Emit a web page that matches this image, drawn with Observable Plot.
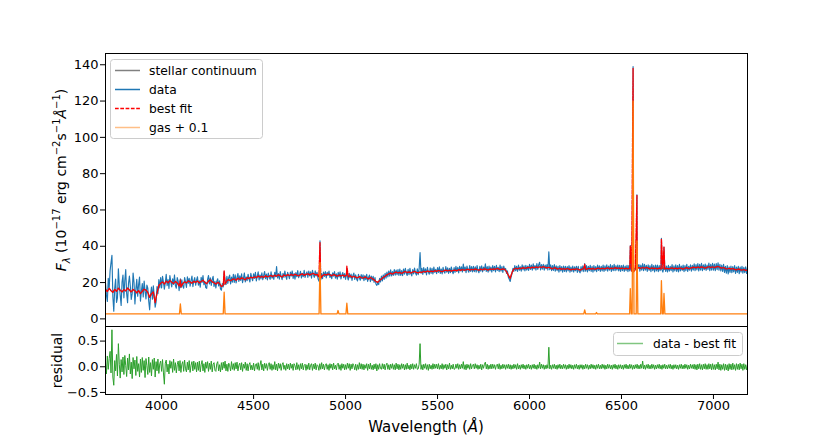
<!DOCTYPE html>
<html>
<head>
<meta charset="utf-8">
<script src="https://cdn.jsdelivr.net/npm/d3@7"></script>
<script src="https://cdn.jsdelivr.net/npm/@observablehq/plot@0.6"></script>
<style>
  body { margin: 0; background: white; }
  #wrap { position: relative; width: 830px; height: 443px; font-family: "DejaVu Sans", sans-serif; }
  #wrap > svg { position: absolute; left: 0; }
  #overlay { position: absolute; left: 0; top: 0; pointer-events: none; }
</style>
</head>
<body>
<div id="wrap"></div>
<script>
// ---- Data ----
const fitStart = 3695;  // first wavelength of the model grid (Å)
const fitStep = 10;     // model grid spacing (Å)
const obsStart = 3695;  // first wavelength of the observed grid (Å)
const obsStep = 5;      // observed grid spacing (Å)

// stellar continuum (10^-17 erg/cm2/s/Å), 10 Å grid
const stellar = [
  16.2, 15.1, 16.8, 15.5, 14.6, 16.3, 15.2, 16.9, 15.8, 14.9,
  16.1, 15.4, 17.0, 15.9, 14.8, 16.2, 15.5, 14.3, 15.6, 13.9,
  15.2, 16.4, 15.8, 14.6, 11.8, 13.9, 14.8, 9.0, 14.2, 18.4,
  19.6, 20.3, 19.2, 20.8, 19.9, 21.1, 20.2, 19.5, 20.6, 19.8,
  18.2, 17.6, 19.4, 20.5, 19.8, 21.0, 20.3, 19.6, 20.7, 20.1,
  20.9, 19.8, 20.6, 21.3, 20.2, 19.4, 20.8, 21.5, 20.4, 19.9,
  19.2, 20.1, 19.5, 17.8, 18.5, 19.3, 21.0, 21.6, 20.9, 21.8,
  22.0, 21.3, 22.4, 21.7, 22.6, 22.1, 21.5, 22.8, 22.2, 23.0,
  22.5, 23.2, 22.7, 23.6, 22.9, 23.4, 22.8, 23.8, 23.1, 23.5,
  23.9, 23.2, 24.1, 23.5, 24.3, 23.7, 23.0, 24.2, 23.6, 24.4,
  23.8, 24.5, 23.9, 24.6, 24.1, 23.6, 24.4, 24.8, 24.0, 24.5,
  24.9, 24.2, 24.7, 25.0, 24.3, 24.6, 23.2, 22.4, 23.8, 24.5,
  24.1, 24.8, 24.3, 23.7, 24.5, 24.0, 23.4, 24.2, 23.6, 24.1,
  23.5, 24.0, 23.2, 23.8, 22.9, 23.5, 23.0, 22.6, 23.3, 22.8,
  22.4, 23.1, 22.6, 22.0, 22.8, 22.2, 21.5, 20.6, 20.1, 21.2,
  22.0, 22.9, 23.5, 24.3, 24.8, 25.2, 24.6, 25.4, 25.8, 25.3,
  25.6, 25.0, 25.7, 26.1, 25.5, 25.9, 25.2, 25.8, 26.2, 25.6,
  25.3, 25.9, 25.5, 26.2, 25.8, 26.4, 25.9, 26.3, 26.0, 26.6,
  26.2, 26.7, 26.3, 26.0, 26.5, 26.9, 26.4, 26.8, 26.3, 26.7,
  26.9, 26.5, 27.1, 26.7, 27.2, 26.8, 27.0, 27.4, 26.9, 27.3,
  27.0, 27.5, 27.1, 26.8, 27.4, 27.0, 27.6, 27.2, 26.9, 27.5,
  27.2, 27.6, 27.3, 27.8, 27.4, 27.1, 27.6, 27.3, 26.0, 24.0,
  22.3, 25.6, 27.4, 27.9, 27.5, 28.0, 27.7, 28.2, 27.8, 28.1,
  28.4, 28.0, 28.5, 28.1, 28.6, 28.2, 28.7, 28.3, 28.8, 28.4,
  28.1, 28.5, 28.0, 27.6, 28.2, 27.8, 27.4, 27.9, 27.3, 27.7,
  27.2, 27.8, 27.4, 27.0, 27.5, 27.1, 27.6, 27.3, 26.9, 27.4,
  27.7, 27.2, 27.6, 27.9, 27.4, 27.8, 27.3, 27.7, 28.0, 27.5,
  27.9, 27.5, 27.8, 28.1, 27.6, 28.0, 27.7, 28.2, 27.8, 28.1,
  27.7, 28.0, 27.6, 27.9, 27.5, 27.8, 26.4, 25.9, 27.2, 27.9,
  28.2, 27.8, 28.3, 27.9, 28.4, 28.0, 27.6, 28.1, 27.7, 28.0,
  27.6, 28.0, 27.5, 27.8, 27.4, 27.9, 27.5, 27.8, 28.1, 27.6,
  28.0, 27.6, 28.1, 27.8, 27.4, 27.9, 28.2, 27.7, 28.0, 28.3,
  28.5, 28.1, 28.6, 28.2, 28.7, 28.3, 28.0, 28.4, 28.8, 28.3,
  28.7, 28.2, 28.6, 28.9, 28.4, 28.0, 28.3, 27.7, 27.5, 27.9,
  27.4, 27.8, 27.3, 27.0, 27.5, 27.1, 26.8, 27.2, 26.7, 27.0
];

// observed spectrum, 5 Å grid (one row = 100 Å)
const observed = [
  19.8, 13.2, 9.6, 22.4, 17.1, 26.5, 31.0, 35.0, 12.3, 4.2, 16.8, 21.9, 9.1, 11.5, 27.6, 18.2, 13.0, 7.4, 20.3, 24.1,
  11.6, 21.2, 27.1, 14.0, 8.9, 19.5, 23.6, 17.8, 10.7, 13.9, 25.3, 20.1, 8.2, 16.4, 21.8, 12.5, 18.9, 23.0, 9.8, 15.2,
  19.4, 12.1, 20.8, 15.3, 11.0, 18.6, 16.9, 9.7, 5.0, 13.4, 17.5, 10.8, 18.2, 12.6, 6.5, 9.3, 17.8, 13.9, 21.6, 17.0,
  22.8, 17.1, 23.5, 20.2, 16.4, 19.9, 24.6, 18.3, 21.7, 16.8, 23.9, 20.5, 17.6, 22.1, 19.0, 24.2, 18.4, 16.9, 22.7, 20.8,
  15.6, 19.8, 17.2, 21.5, 18.1, 16.9, 22.8, 20.4, 17.3, 23.1, 19.6, 22.4, 18.0, 21.2, 23.6, 17.8, 20.9, 22.7, 18.5, 21.3,
  23.2, 18.6, 21.0, 17.4, 22.9, 20.1, 23.8, 18.9, 20.6, 17.2, 16.8, 21.7, 23.9, 19.3, 22.6, 18.4, 21.8, 23.4, 17.9, 20.7,
  17.0, 20.8, 22.1, 18.2, 20.9, 16.5, 15.8, 19.4, 17.6, 26.0, 20.7, 18.9, 23.4, 19.6, 22.8, 24.1, 19.3, 23.0, 20.2, 24.6,
  20.1, 24.3, 19.8, 22.9, 25.0, 20.6, 23.7, 21.2, 24.8, 19.9, 22.4, 25.3, 20.4, 23.1, 21.0, 24.6, 22.2, 20.3, 25.1, 22.7,
  21.0, 24.8, 22.3, 25.6, 20.9, 23.5, 25.9, 21.4, 24.2, 22.0, 25.4, 21.6, 23.9, 26.1, 22.1, 24.7, 21.5, 25.2, 23.0, 21.8,
  25.9, 22.4, 24.1, 21.7, 25.6, 23.2, 28.8, 22.5, 24.9, 21.9, 26.0, 23.4, 21.6, 25.1, 22.8, 26.3, 23.6, 21.8, 25.7, 24.0,
  22.1, 25.8, 23.6, 26.4, 22.3, 24.9, 21.9, 25.5, 23.2, 26.6, 22.7, 24.4, 26.2, 22.5, 25.1, 23.3, 26.8, 22.9, 24.7, 25.9,
  22.8, 26.3, 23.7, 25.9, 22.4, 26.8, 24.1, 22.9, 26.5, 23.6, 25.7, 22.2, 20.8, 23.6, 21.4, 24.9, 22.1, 25.8, 23.4, 26.1,
  22.6, 25.7, 23.9, 26.3, 22.8, 24.6, 22.1, 25.4, 23.5, 26.0, 22.4, 24.8, 21.9, 25.6, 23.1, 25.9, 22.0, 24.3, 25.5, 22.7,
  24.9, 21.8, 25.3, 23.0, 21.4, 25.1, 22.6, 24.7, 21.2, 23.9, 25.2, 21.7, 24.3, 22.0, 20.9, 24.6, 22.5, 21.3, 24.4, 22.1,
  24.3, 21.0, 23.8, 21.6, 24.5, 20.7, 22.9, 24.1, 20.5, 23.6, 21.2, 23.4, 20.1, 22.8, 19.2, 18.5, 19.8, 18.9, 22.4, 20.3,
  23.6, 20.9, 24.2, 21.8, 25.1, 22.4, 25.8, 23.1, 26.4, 23.5, 27.0, 23.6, 26.1, 24.0, 27.2, 24.1, 26.9, 24.3, 27.1, 23.9,
  27.4, 24.0, 26.6, 23.8, 27.5, 24.6, 27.9, 25.1, 23.9, 27.3, 24.4, 27.8, 25.0, 23.7, 27.2, 24.8, 28.0, 25.3, 24.1, 27.6,
  24.3, 27.7, 36.5, 25.2, 27.9, 24.5, 28.2, 25.4, 27.6, 24.2, 28.4, 25.8, 24.6, 28.1, 25.0, 27.8, 24.7, 28.5, 25.6, 27.3,
  24.9, 28.3, 25.6, 28.7, 25.1, 27.5, 24.8, 28.4, 26.0, 25.2, 28.8, 25.7, 28.1, 25.0, 27.9, 25.5, 28.6, 26.2, 24.9, 28.2,
  25.6, 28.9, 26.1, 28.4, 25.3, 29.0, 26.4, 28.7, 25.8, 30.2, 26.5, 28.6, 25.4, 29.1, 26.8, 25.7, 29.3, 26.2, 28.8, 25.9,
  29.0, 26.0, 28.7, 25.8, 29.4, 26.6, 25.4, 28.9, 26.3, 29.2, 25.9, 28.5, 26.8, 30.3, 26.1, 28.8, 25.7, 29.1, 26.4, 28.6,
  25.8, 29.3, 26.6, 28.9, 25.9, 29.5, 26.7, 28.4, 26.0, 29.7, 26.3, 28.8, 25.6, 29.1, 26.9, 27.8, 25.1, 26.4, 22.9, 21.8,
  20.6, 23.2, 25.0, 27.9, 26.2, 29.3, 26.5, 29.0, 26.1, 29.6, 26.8, 28.7, 26.3, 29.8, 27.0, 29.2, 26.4, 29.5, 26.9, 29.1,
  26.7, 30.0, 27.2, 29.6, 26.8, 30.3, 27.5, 29.4, 26.9, 30.5, 27.3, 29.8, 31.2, 27.0, 29.9, 27.4, 30.1, 26.8, 29.7, 27.6,
  29.9, 26.9, 37.0, 27.1, 29.8, 26.5, 29.4, 26.7, 29.9, 26.3, 29.2, 26.6, 28.9, 25.8, 29.4, 26.4, 28.8, 25.7, 29.1, 26.2,
  29.0, 25.9, 28.8, 26.4, 29.3, 25.7, 28.6, 26.2, 29.1, 25.8, 28.7, 26.5, 29.0, 25.6, 28.9, 26.1, 25.4, 28.8, 26.3, 29.2,
  26.0, 30.5, 26.3, 29.4, 25.9, 28.9, 26.6, 29.5, 26.1, 29.0, 25.8, 29.3, 26.4, 28.8, 26.0, 29.6, 26.7, 29.2, 26.2, 28.9,
  26.4, 29.6, 26.1, 29.2, 26.7, 29.8, 26.3, 29.1, 26.8, 29.9, 26.2, 29.4, 26.6, 30.0, 26.5, 29.3, 26.9, 29.7, 26.4, 29.5,
  26.1, 29.4, 26.5, 29.6, 26.2, 29.1, 26.6, 29.5, 26.0, 29.3, 26.4, 28.0, 27.0, 26.2, 26.5, 27.6, 28.1, 27.0, 26.3, 29.2,
  29.9, 26.3, 29.6, 26.8, 30.4, 26.5, 30.1, 26.9, 29.5, 26.2, 29.8, 26.7, 29.3, 26.0, 30.0, 26.6, 29.4, 25.9, 29.7, 26.4,
  29.6, 26.0, 29.3, 26.5, 29.6, 27.0, 25.8, 28.2, 29.4, 26.1, 29.1, 25.8, 29.5, 26.3, 28.9, 26.6, 29.9, 25.9, 29.2, 26.4,
  29.8, 26.2, 29.4, 25.9, 30.0, 26.4, 29.1, 26.7, 29.6, 26.0, 29.3, 26.5, 30.1, 26.1, 29.0, 26.8, 29.8, 26.3, 29.5, 26.9,
  30.3, 26.6, 29.9, 27.0, 30.5, 26.4, 30.0, 26.9, 30.6, 26.5, 29.8, 27.1, 30.2, 26.7, 29.6, 27.2, 30.7, 26.6, 30.1, 26.8,
  30.6, 26.9, 30.2, 26.5, 30.4, 27.1, 30.9, 26.8, 30.1, 26.4, 29.7, 26.2, 30.0, 25.6, 28.9, 25.2, 29.3, 24.8, 28.7, 25.6,
  29.1, 25.4, 28.8, 25.9, 29.3, 25.1, 28.6, 25.6, 29.0, 24.9, 28.5, 25.7, 28.9, 25.2, 28.4, 25.5, 28.7, 25.0, 28.3, 25.4
];

// relative residual (data - best fit), 5 Å grid
const residual = [
  0.08, -0.14, 0.21, -0.05, 0.16, 0.30, -0.12, 0.72, -0.20, -0.36, 0.12, -0.08, 0.24, -0.18, 0.45, 0.05, -0.22, 0.14, -0.10, 0.19,
  -0.15, 0.22, 0.02, -0.19, 0.17, -0.06, 0.25, -0.14, 0.09, -0.23, 0.18, -0.04, 0.13, -0.17, 0.20, -0.09, 0.06, -0.20, 0.15, -0.11,
  0.18, -0.07, 0.12, -0.21, 0.16, 0.02, -0.15, 0.19, -0.11, 0.08, -0.18, 0.14, -0.05, 0.17, -0.20, 0.10, -0.08, 0.15, -0.13, 0.06,
  0.11, -0.09, 0.14, -0.12, -0.34, 0.07, 0.13, -0.10, 0.05, -0.14, 0.12, -0.03, 0.10, -0.11, 0.15, -0.07, 0.08, -0.12, 0.04, 0.11,
  -0.08, 0.12, -0.11, 0.05, 0.10, -0.09, 0.13, -0.04, -0.10, 0.09, -0.06, 0.12, -0.11, 0.03, 0.10, -0.08, 0.11, -0.05, 0.08, -0.10,
  0.09, -0.07, 0.11, -0.10, 0.04, 0.12, -0.08, 0.06, -0.11, 0.09, -0.03, 0.10, -0.09, 0.07, -0.05, 0.11, -0.10, 0.05, 0.08, -0.07,
  -0.09, 0.06, 0.10, -0.08, 0.04, -0.10, 0.08, -0.06, 0.09, -0.03, 0.11, -0.08, 0.05, -0.09, 0.07, 0.02, -0.08, 0.10, -0.05, 0.06,
  -0.07, 0.08, -0.04, 0.09, -0.08, 0.03, 0.07, -0.06, 0.08, -0.09, 0.05, -0.03, 0.09, -0.07, 0.06, -0.08, 0.04, 0.08, -0.06, 0.03,
  -0.06, 0.07, -0.08, 0.04, 0.06, -0.05, 0.08, -0.07, 0.03, 0.12, -0.06, 0.05, -0.08, 0.07, -0.03, 0.06, -0.07, 0.04, 0.08, -0.05,
  0.06, -0.07, 0.04, -0.05, 0.10, -0.06, 0.05, -0.08, 0.07, -0.03, 0.06, -0.07, 0.04, 0.08, -0.05, 0.03, -0.07, 0.06, -0.04, 0.05,
  -0.06, 0.07, -0.03, 0.05, -0.07, 0.06, 0.02, -0.06, 0.08, -0.05, 0.04, -0.07, 0.06, -0.04, 0.07, -0.06, 0.03, 0.05, -0.07, 0.04,
  -0.05, 0.07, -0.06, 0.03, 0.06, -0.07, 0.05, -0.04, 0.07, -0.06, 0.04, 0.02, -0.07, 0.06, -0.05, 0.08, -0.04, 0.05, -0.06, 0.03,
  0.06, -0.05, 0.04, -0.07, 0.06, -0.03, 0.05, -0.06, 0.07, -0.04, 0.03, -0.06, 0.05, 0.07, -0.05, 0.04, -0.07, 0.06, -0.03, 0.05,
  -0.06, 0.04, -0.05, 0.07, -0.03, 0.06, -0.07, 0.05, -0.04, 0.06, 0.02, -0.06, 0.05, -0.07, 0.04, -0.05, 0.08, -0.04, 0.06, -0.05,
  0.05, -0.06, 0.04, -0.03, 0.06, -0.07, 0.05, -0.04, 0.07, -0.05, 0.03, -0.06, 0.05, -0.04, 0.06, -0.08, 0.04, -0.05, 0.06, -0.03,
  -0.05, 0.06, -0.04, 0.05, -0.06, 0.03, 0.07, -0.05, 0.04, -0.06, 0.05, -0.03, 0.06, -0.05, 0.04, -0.06, 0.07, -0.04, 0.05, -0.06,
  0.04, -0.05, 0.06, -0.03, 0.05, -0.06, 0.04, -0.05, 0.07, -0.04, 0.03, -0.06, 0.05, -0.04, 0.06, -0.05, 0.04, -0.03, 0.06, -0.05,
  -0.04, 0.05, 0.45, -0.05, 0.04, -0.06, 0.05, -0.03, 0.06, -0.05, 0.04, -0.07, 0.05, -0.04, 0.03, -0.05, 0.06, -0.04, 0.05, -0.03,
  0.05, -0.04, 0.06, -0.05, 0.03, -0.04, 0.06, -0.05, 0.04, -0.03, 0.05, -0.06, 0.04, -0.04, 0.07, -0.05, 0.03, -0.04, 0.05, -0.05,
  -0.04, 0.05, -0.03, 0.06, -0.05, 0.04, -0.04, 0.05, -0.03, 0.10, -0.05, 0.04, -0.06, 0.05, -0.03, 0.04, -0.05, 0.06, -0.04, 0.03,
  0.05, -0.04, 0.06, -0.03, 0.04, -0.05, 0.03, -0.04, 0.05, -0.06, 0.04, -0.03, 0.05, 0.09, -0.04, 0.05, -0.05, 0.03, -0.04, 0.05,
  -0.04, 0.05, -0.03, 0.04, -0.05, 0.03, 0.05, -0.04, 0.06, -0.05, 0.03, -0.04, 0.05, -0.03, 0.04, -0.05, 0.04, -0.03, 0.05, -0.04,
  0.04, -0.05, 0.03, -0.04, 0.05, -0.03, 0.04, -0.05, 0.06, -0.04, 0.03, -0.05, 0.04, -0.03, 0.05, -0.04, 0.03, -0.05, 0.04, -0.03,
  0.05, -0.04, 0.03, -0.05, 0.04, -0.03, 0.05, -0.04, 0.03, -0.05, 0.04, -0.03, 0.09, -0.04, 0.05, -0.03, 0.04, -0.05, 0.03, -0.04,
  0.04, -0.03, 0.38, -0.04, 0.03, -0.05, 0.04, -0.03, 0.05, -0.04, 0.03, -0.05, 0.04, -0.03, 0.05, -0.04, 0.03, -0.04, 0.05, -0.03,
  0.04, -0.05, 0.03, -0.04, 0.05, -0.03, 0.04, -0.04, 0.03, -0.05, 0.04, -0.03, 0.05, -0.04, 0.03, -0.05, 0.04, -0.03, 0.04, -0.05,
  0.03, -0.04, 0.05, -0.03, 0.04, -0.05, 0.03, -0.04, 0.05, -0.03, 0.04, -0.04, 0.03, -0.05, 0.04, -0.03, 0.05, -0.04, 0.03, -0.04,
  0.05, -0.03, 0.04, -0.05, 0.03, -0.04, 0.05, -0.03, 0.04, -0.04, 0.03, -0.05, 0.04, -0.03, 0.05, -0.04, 0.03, -0.05, 0.04, -0.03,
  0.04, -0.04, 0.03, -0.05, 0.04, -0.03, 0.05, -0.04, 0.03, -0.04, 0.05, -0.03, 0.04, -0.05, 0.03, -0.04, 0.04, -0.03, 0.05, -0.04,
  0.03, -0.04, 0.05, -0.03, 0.11, -0.04, 0.03, -0.05, 0.04, -0.03, 0.05, -0.04, 0.03, -0.04, 0.05, -0.03, 0.04, -0.05, 0.03, -0.04,
  0.04, -0.03, 0.05, -0.04, 0.03, -0.05, 0.04, -0.03, 0.05, -0.04, 0.03, -0.04, 0.04, -0.03, 0.05, -0.04, 0.03, -0.05, 0.04, -0.03,
  0.04, -0.04, 0.03, -0.05, 0.04, -0.03, 0.05, -0.04, 0.03, -0.04, 0.05, -0.03, 0.04, -0.05, 0.03, -0.04, 0.05, -0.03, 0.04, -0.04,
  0.05, -0.05, 0.04, -0.06, 0.05, -0.04, 0.06, -0.05, 0.04, -0.06, 0.05, -0.04, 0.06, -0.05, 0.04, -0.05, 0.06, -0.04, 0.05, -0.06,
  0.06, -0.05, 0.04, -0.06, 0.05, -0.04, 0.09, -0.06, 0.05, -0.07, 0.04, -0.05, 0.06, -0.07, 0.05, -0.06, 0.04, -0.08, 0.06, -0.05,
  0.05, -0.06, 0.07, -0.05, 0.04, -0.07, 0.06, -0.05, 0.05, -0.06, 0.07, -0.04, 0.05, -0.07, 0.06, -0.05, 0.04, -0.06, 0.05, -0.05
];

// emission-line peaks in the observed data
const dataLineWave = [4102, 4861, 5007, 6548, 6563, 6584, 6717, 6731];
const dataLineFlux = [22.0, 43.0, 28.0, 40.4, 139.0, 68.3, 44.4, 39.5];
// emission-line peaks in the best fit
const fitLineWave = [4102, 4340, 4861, 5007, 6300, 6548, 6563, 6584, 6717, 6731];
const fitLineFlux = [21.5, 26.5, 42.0, 29.0, 30.0, 40.0, 138.0, 68.0, 44.0, 39.5];

// gas model + offset
const gasWave = [3695, 4097, 4102, 4107, 4335, 4340, 4345, 4856, 4861, 4866, 4954, 4959, 4964,
  5002, 5007, 5012, 6295, 6300, 6305, 6359, 6364, 6369, 6544, 6548, 6553, 6558, 6563, 6568,
  6580, 6584, 6589, 6713, 6717, 6722, 6727, 6731, 6736, 7185];
const gasFlux = [2.75, 2.75, 8.2, 2.75, 2.75, 14.7, 2.75, 2.75, 31, 2.75, 2.75, 4.6, 2.75,
  2.75, 8.6, 2.75, 2.75, 5.0, 2.75, 2.75, 3.5, 2.75, 2.75, 16.7, 2.75, 2.75, 120, 2.75,
  2.75, 43, 2.75, 2.75, 21, 2.75, 2.75, 14, 2.75, 2.75];

const xTicks = [4000, 4500, 5000, 5500, 6000, 6500, 7000];
const yTicksTop = [0, 20, 40, 60, 80, 100, 120, 140];
const yTicksBottom = [-0.5, 0, 0.5];

// ---- build tables ----
function series(vals, start, step, lw, lv) {
  const pts = vals.map((v, i) => ({w: start + i * step, f: v}));
  if (lw) lw.forEach((w, j) => pts.push({w, f: lv[j]}));
  return pts.sort((a, b) => a.w - b.w);
}
const dataSeries = series(observed, obsStart, obsStep, dataLineWave, dataLineFlux);
const fitSeries = series(stellar, fitStart, fitStep, fitLineWave, fitLineFlux);
const stellarSeries = series(stellar, fitStart, fitStep);
const residSeries = series(residual, obsStart, obsStep);
const gasSeries = gasWave.map((w, i) => ({w, f: gasFlux[i]}));

const xDomain = [3695, 7185];
const font = {fontFamily: "DejaVu Sans", fontSize: "13px", color: "black", background: "transparent", overflow: "visible"};

const topPlot = Plot.plot({
  width: 830, height: 326,
  marginTop: 53, marginBottom: 0, marginLeft: 105, marginRight: 83,
  style: font,
  x: {domain: xDomain, axis: null},
  y: {domain: [-4.2, 146.2]},
  marks: [
    Plot.axisY({ticks: yTicksTop, tickSize: 5, tickPadding: 2, label: null, tickFormat: d3.format("d")}),
    Plot.line(stellarSeries, {x: "w", y: "f", stroke: "black", strokeOpacity: 0.5, strokeWidth: 1.2, clip: true}),
    Plot.line(dataSeries, {x: "w", y: "f", stroke: "#1f77b4", strokeWidth: 1.15, clip: true}),
    Plot.line(fitSeries, {x: "w", y: "f", stroke: "red", strokeWidth: 1.3, strokeDasharray: "4,1.2", clip: true}),
    Plot.line(gasSeries, {x: "w", y: "f", stroke: "#ff7f0e", strokeWidth: 1.3, clip: true}),
    Plot.frame({stroke: "black", strokeWidth: 1})
  ]
});
topPlot.style.top = "0px";

const botPlot = Plot.plot({
  width: 830, height: 117,
  marginTop: 0, marginBottom: 49, marginLeft: 105, marginRight: 83,
  style: font,
  x: {domain: xDomain},
  y: {domain: [-0.54, 0.784]},
  marks: [
    Plot.axisX({ticks: xTicks, tickSize: 5, tickPadding: 1, label: null, tickFormat: d3.format("d")}),
    Plot.axisY({ticks: yTicksBottom, tickSize: 5, tickPadding: 2, label: null, tickFormat: d3.format(".1f")}),
    Plot.line(residSeries, {x: "w", y: "f", stroke: "#2ca02c", strokeWidth: 1.0, clip: true}),
    Plot.frame({stroke: "black", strokeWidth: 1})
  ]
});
botPlot.style.top = "326px";

const wrap = document.getElementById("wrap");
wrap.appendChild(topPlot);
wrap.appendChild(botPlot);

// ---- labels and legends (overlay) ----
const ov = d3.select(wrap).append("svg").attr("id", "overlay")
  .attr("width", 830).attr("height", 443)
  .style("font-family", "DejaVu Sans");

// x label
const xl = ov.append("text").attr("x", 426).attr("y", 432).attr("text-anchor", "middle")
  .attr("font-size", 15).attr("fill", "black");
xl.append("tspan").text("Wavelength (");
xl.append("tspan").attr("font-style", "italic").text("Å");
xl.append("tspan").text(")");

// y label top
const yl = ov.append("text").attr("transform", "translate(66,180) rotate(-90)")
  .attr("text-anchor", "middle").attr("font-size", 14).attr("fill", "black");
const parts = [
  ["F", 0, 14, true], ["λ", 4, 10, true], [" (10", -4, 14, false], ["−17", -6, 10, false],
  [" erg cm", 6, 14, false], ["−2", -6, 10, false], ["s", 6, 14, false], ["−1", -6, 10, false],
  ["Å", 6, 14, true], ["−1", -6, 10, false], [")", 6, 14, false]
];
parts.forEach(([t, dy, fs, it]) => {
  const s = yl.append("tspan").attr("dy", dy).attr("font-size", fs).text(t);
  if (it) s.attr("font-style", "italic");
});

// y label bottom
ov.append("text").attr("transform", "translate(62,360.5) rotate(-90)")
  .attr("text-anchor", "middle").attr("font-size", 14).attr("fill", "black").text("residual");

// top legend
const lg = ov.append("g");
lg.append("rect").attr("x", 110.5).attr("y", 59.5).attr("width", 152).attr("height", 79).attr("rx", 3)
  .attr("fill", "white").attr("fill-opacity", 0.8).attr("stroke", "#cccccc");
const legItems = [
  {label: "stellar continuum", color: "#808080", dash: null},
  {label: "data", color: "#1f77b4", dash: null},
  {label: "best fit", color: "red", dash: "3.7,1.6"},
  {label: "gas + 0.1", color: "#ffbf87", dash: null}
];
legItems.forEach((d, i) => {
  const y = 70.5 + i * 19;
  const l = lg.append("line").attr("x1", 115).attr("x2", 140).attr("y1", y).attr("y2", y)
    .attr("stroke", d.color).attr("stroke-width", 1.5);
  if (d.dash) l.attr("stroke-dasharray", d.dash);
  lg.append("text").attr("x", 149).attr("y", y).attr("dy", "0.35em")
    .attr("font-size", 12.3).attr("fill", "black").text(d.label);
});

// bottom legend
const lg2 = ov.append("g");
lg2.append("rect").attr("x", 613.5).attr("y", 332.5).attr("width", 129).attr("height", 23).attr("rx", 3)
  .attr("fill", "white").attr("fill-opacity", 0.8).attr("stroke", "#cccccc");
lg2.append("line").attr("x1", 617).attr("x2", 643).attr("y1", 343.5).attr("y2", 343.5)
  .attr("stroke", "#80c680").attr("stroke-width", 1.5);
lg2.append("text").attr("x", 653).attr("y", 343.5).attr("dy", "0.35em")
  .attr("font-size", 12.3).attr("fill", "black").text("data - best fit");
</script>
</body>
</html>
